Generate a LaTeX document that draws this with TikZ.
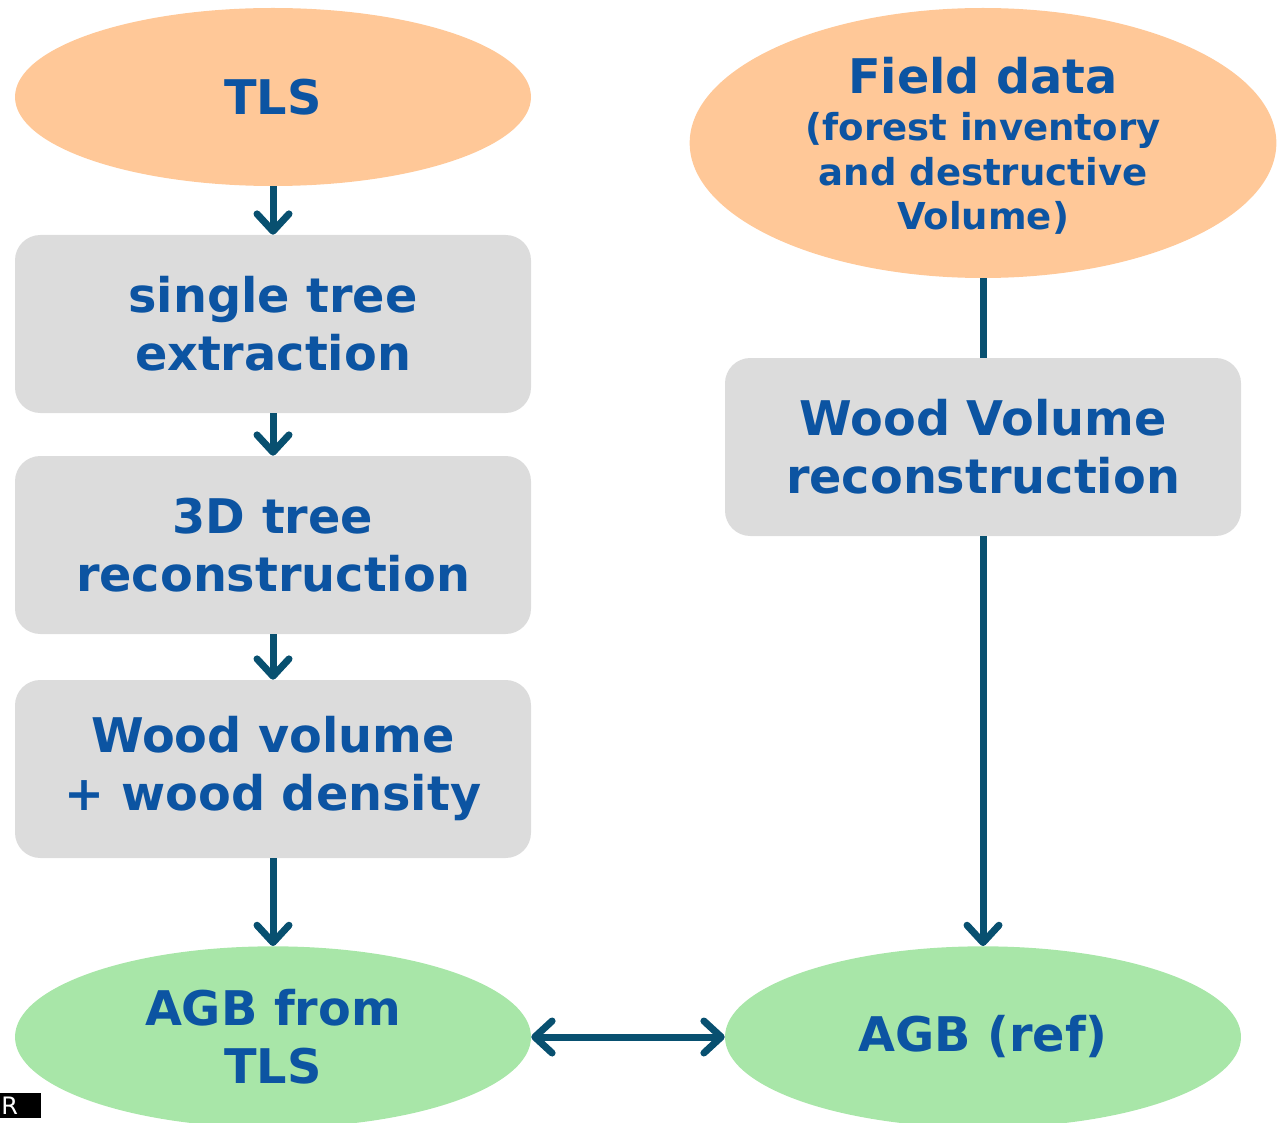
\documentclass[tikz,border=0pt]{standalone}
\usepackage{fontspec}
\setmainfont{DejaVu Sans}
\usetikzlibrary{shapes.geometric,arrows.meta}
\definecolor{txtblue}{RGB}{12,84,162}
\definecolor{arrowc}{RGB}{8,80,112}
\definecolor{orangefill}{RGB}{255,200,152}
\definecolor{greenfill}{RGB}{168,230,168}
\definecolor{grayfill}{RGB}{220,220,220}
\tikzset{
  lbl/.style={text=txtblue,font=\bfseries\fontsize{35.8}{43.5}\selectfont,align=center,inner sep=0pt},
  orangeell/.style={ellipse,fill=orangefill,lbl},
  greenell/.style={ellipse,fill=greenfill,lbl,minimum width=387pt,minimum height=136pt},
  stepbox/.style={rectangle,rounded corners=19pt,fill=grayfill,lbl,minimum width=387pt,minimum height=133.5pt},
  conn/.style={draw=arrowc,line width=5.25pt},
  tip/.style={-{Straight Barb[length=13pt,width=24pt,round]}},
  dtip/.style={{Straight Barb[length=13pt,width=24pt,round]}-{Straight Barb[length=13pt,width=24pt,round]}}
}
\begin{document}
\begin{tikzpicture}[x=0.75pt,y=-0.75pt]
\useasboundingbox (0,0) rectangle (1278,1123);
\node[orangeell,minimum width=387pt,minimum height=133.5pt] (tls) at (273,97) {TLS};
\node[orangeell,minimum width=440pt,minimum height=202.5pt] (field) at (983,143) {};
\node[lbl,font=\bfseries\fontsize{27.8}{33.5}\selectfont] (fieldtxt) at (983,146)
  {{\fontsize{35.8}{33}\selectfont Field data}\\[1.5pt](forest inventory\\and destructive\\Volume)};
\node[stepbox] (b1) at (273,324) {single tree\\extraction};
\node[stepbox] (b2) at (273,545) {3D tree\\reconstruction};
\node[stepbox] (b3) at (273,769) {Wood volume\\+ wood density};
\node[stepbox] (rb) at (983,447) {Wood Volume\\reconstruction};
\node[greenell] (agbt) at (273,1037) {AGB from\\TLS};
\node[greenell] (agbr) at (983,1037) {AGB (ref)};
\draw[conn,tip] (tls.south) -- (b1.north);
\draw[conn,tip] (b1.south) -- (b2.north);
\draw[conn,tip] (b2.south) -- (b3.north);
\draw[conn,tip] (b3.south) -- (agbt.north);
\draw[conn] (field.south) -- (rb.north);
\draw[conn,tip] (rb.south) -- (agbr.north);
\draw[conn,dtip] (agbt.east) -- (agbr.west);
\fill[black] (0,1093) rectangle (41,1118);
\node[anchor=west,text=white,font=\fontsize{18}{18}\selectfont,inner sep=0pt] (art) at (1,1105.5) {R};
\end{tikzpicture}
\end{document}
